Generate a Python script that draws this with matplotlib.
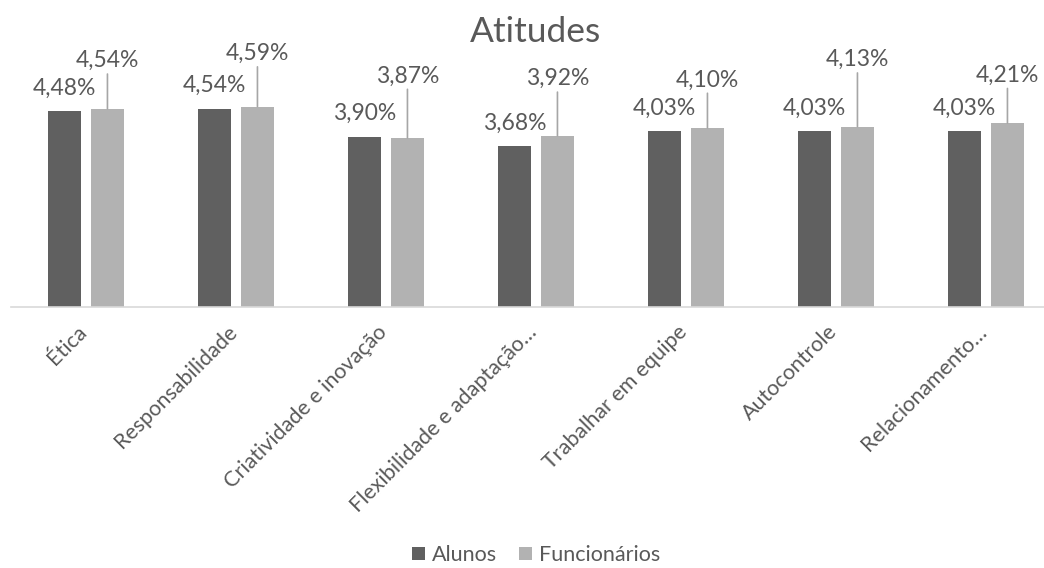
import numpy as np
import matplotlib
matplotlib.use('Agg')
import matplotlib.pyplot as plt
from matplotlib.transforms import ScaledTranslation

# ── Dados ─────────────────────────────────────────────────────────────────────
categorias = ['Ética', 'Responsabilidade', 'Criatividade e inovação',
              'Flexibilidade e adaptação…', 'Trabalhar em equipe',
              'Autocontrole', 'Relacionamento…']
alunos = [4.48, 4.54, 3.90, 3.68, 4.03, 4.03, 4.03]
funcionarios = [4.54, 4.59, 3.87, 3.92, 4.10, 4.13, 4.21]

# altura (px) dos rótulos de Funcionários acima da barra, com linha guia
subida = [48, 53, 62, 57, 48, 67, 48]

ESCURO = '#606060'
CLARO = '#b2b2b2'
TEXTO = '#595959'

plt.rcParams['font.family'] = ['Lato', 'DejaVu Sans']


def fmt(v):
    return f'{v:.2f}%'.replace('.', ',')


# ── Figura ────────────────────────────────────────────────────────────────────
fig = plt.figure(figsize=(10.44, 5.68), dpi=100)
ax = fig.add_axes([11 / 1044, 261 / 568, 1033 / 1044, 262 / 568])

x = np.arange(len(categorias))
larg = 0.22
desl = 0.143

ax.bar(x - desl, alunos, larg, color=ESCURO, label='Alunos')
ax.bar(x + desl, funcionarios, larg, color=CLARO, label='Funcionários')

for xi, v in zip(x, alunos):
    ax.annotate(fmt(v), (xi - desl, v), xytext=(0, 23), textcoords='offset pixels',
                ha='center', va='center', fontsize=16.5, color=TEXTO)

for xi, v, s in zip(x, funcionarios, subida):
    ax.annotate(fmt(v), (xi + desl, v), xytext=(0, s), textcoords='offset pixels',
                ha='center', va='center', fontsize=16.5, color=TEXTO,
                arrowprops=dict(arrowstyle='-', color='#a6a6a6', lw=1.2,
                                shrinkA=0, shrinkB=0))

ax.set_xlim(-0.5, (1044 - 86) / 150)
ax.set_ylim(0, 6)
ax.set_yticks([])
for lado in ['top', 'right', 'left']:
    ax.spines[lado].set_visible(False)
ax.spines['bottom'].set_color('#d9d9d9')
ax.spines['bottom'].set_linewidth(1.2)

ax.set_xticks(x)
ax.set_xticklabels(categorias, rotation=45, ha='right', va='top',
                   rotation_mode='anchor')
ax.tick_params(axis='x', length=0, pad=12, labelsize=15.5, labelcolor=TEXTO)
ajuste = ScaledTranslation(-0.09, 0.02, fig.dpi_scale_trans)
for rot in ax.get_xticklabels():
    rot.set_transform(rot.get_transform() + ajuste)

fig.text(536 / 1044, 1 - 32 / 568, 'Atitudes', ha='center', va='center',
         fontsize=25.5, color=TEXTO)

fig.legend(loc='center', bbox_to_anchor=(536 / 1044, 1 - 555 / 568), ncol=2,
           frameon=False, fontsize=15.5, labelcolor=TEXTO, handlelength=0.6,
           handleheight=0.6, handletextpad=0.35, columnspacing=1.0)

fig.savefig('out.png', dpi=100)
